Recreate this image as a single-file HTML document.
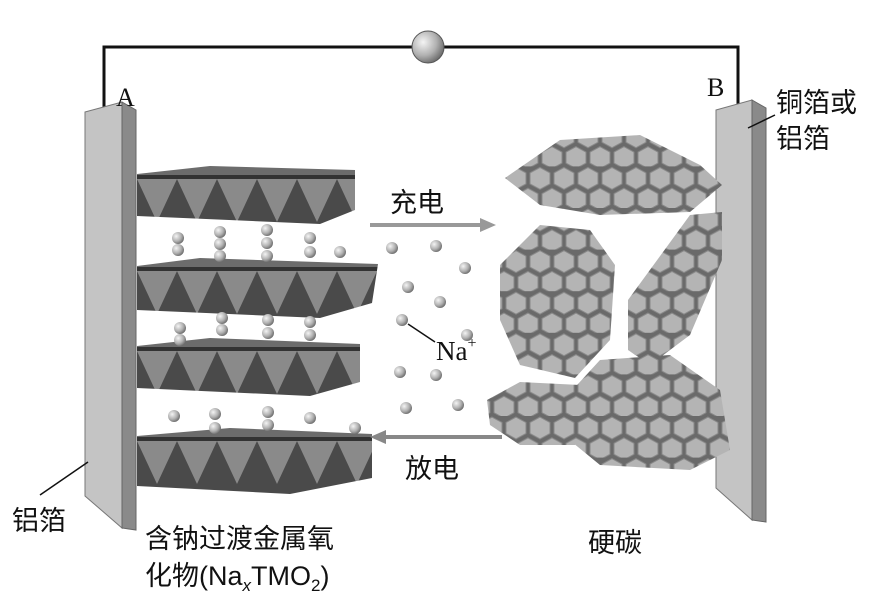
<!DOCTYPE html>
<html><head><meta charset="utf-8"><style>
body{margin:0;background:#fff}
svg{display:block}
text{font-family:"Liberation Serif","Noto Serif CJK SC",serif;fill:#111}
.c{font-family:"Liberation Sans","Noto Sans CJK SC",sans-serif}
</style></head><body>
<svg width="894" height="602" viewBox="0 0 894 602" xmlns="http://www.w3.org/2000/svg">
<defs>
<radialGradient id="sp" cx="0.35" cy="0.35" r="0.7"><stop offset="0" stop-color="#f4f4f4"/><stop offset="0.6" stop-color="#b0b0b0"/><stop offset="1" stop-color="#6a6a6a"/></radialGradient>
<pattern id="oct" width="40" height="70" patternUnits="userSpaceOnUse">
<rect width="40" height="70" fill="#4a4a4a"/>
<rect width="40" height="9" fill="#6c6c6c"/>
<rect y="9" width="40" height="4" fill="#333"/>
<polygon points="0,13 40,13 20,56" fill="#8a8a8a"/>
</pattern>
<pattern id="hex" width="24" height="41.6" patternUnits="userSpaceOnUse">
<rect width="24" height="41.6" fill="#6a6a6a"/>
<polygon points="12,1 22,6.5 22,17.5 12,23 2,17.5 2,6.5" fill="#b4b4b4" stroke="#888" stroke-width="1"/>
<polygon points="0,21.8 10,27.3 10,38.3 0,43.8 -10,38.3 -10,27.3" fill="#b4b4b4" stroke="#888" stroke-width="1"/>
<polygon points="24,21.8 34,27.3 34,38.3 24,43.8 14,38.3 14,27.3" fill="#b4b4b4" stroke="#888" stroke-width="1"/>
</pattern>
</defs>
<!-- wire -->
<path d="M104,108 V47 H738 V108" fill="none" stroke="#111" stroke-width="3"/>
<circle cx="428" cy="47" r="16" fill="url(#sp)" stroke="#555"/>
<!-- left plate -->
<polygon points="85,112 122,102 122,528 85,496" fill="#c4c4c4" stroke="#777"/>
<polygon points="122,102 136,110 136,530 122,528" fill="#8a8a8a" stroke="#666"/>
<!-- right plate -->
<polygon points="716,110 752,100 752,520 716,488" fill="#c4c4c4" stroke="#777"/>
<polygon points="752,100 766,108 766,522 752,520" fill="#8a8a8a" stroke="#666"/>
<!-- octahedra layers -->
<g transform="translate(137,166)"><polygon points="0,8 73,0 218,4 218,44 183,58 0,50" fill="url(#oct)"/></g>
<g transform="translate(137,258)"><polygon points="0,8 63,0 241,6 235,45 183,60 0,52" fill="url(#oct)"/></g>
<g transform="translate(137,338)"><polygon points="0,8 73,0 223,6 223,44 173,58 0,50" fill="url(#oct)"/></g>
<g transform="translate(137,428)"><polygon points="0,8 93,0 235,6 235,50 153,66 0,58" fill="url(#oct)"/></g>
<!-- spheres -->
<g fill="url(#sp)">
<circle cx="178" cy="238" r="6"/><circle cx="178" cy="250" r="6"/>
<circle cx="220" cy="232" r="6"/><circle cx="220" cy="244" r="6"/><circle cx="220" cy="256" r="6"/>
<circle cx="267" cy="230" r="6"/><circle cx="267" cy="243" r="6"/><circle cx="267" cy="256" r="6"/>
<circle cx="310" cy="238" r="6"/><circle cx="310" cy="252" r="6"/>
<circle cx="180" cy="328" r="6"/><circle cx="180" cy="340" r="6"/>
<circle cx="222" cy="318" r="6"/><circle cx="222" cy="330" r="6"/>
<circle cx="268" cy="320" r="6"/><circle cx="268" cy="333" r="6"/>
<circle cx="310" cy="322" r="6"/><circle cx="310" cy="335" r="6"/>
<circle cx="174" cy="416" r="6"/>
<circle cx="215" cy="414" r="6"/><circle cx="215" cy="428" r="6"/>
<circle cx="268" cy="412" r="6"/><circle cx="268" cy="425" r="6"/>
<circle cx="310" cy="418" r="6"/>
<circle cx="355" cy="428" r="6"/><circle cx="340" cy="252" r="6"/>
<circle cx="392" cy="248" r="6"/><circle cx="436" cy="246" r="6"/>
<circle cx="408" cy="287" r="6"/><circle cx="440" cy="302" r="6"/><circle cx="465" cy="268" r="6"/>
<circle cx="402" cy="320" r="6"/><circle cx="467" cy="335" r="6"/>
<circle cx="400" cy="372" r="6"/><circle cx="436" cy="375" r="6"/>
<circle cx="406" cy="408" r="6"/><circle cx="458" cy="405" r="6"/>
</g>
<!-- hex clusters -->
<polygon points="505,178 560,140 640,135 700,165 722,185 690,212 600,215 540,205" fill="url(#hex)"/>
<polygon points="500,265 540,225 590,230 615,265 610,340 575,378 520,365 500,320" fill="url(#hex)"/>
<polygon points="628,300 690,215 722,212 722,260 690,335 650,365 628,350" fill="url(#hex)"/>
<polygon points="487,400 520,382 580,385 600,410 575,445 520,445 490,425" fill="url(#hex)"/>
<polygon points="545,420 600,360 670,355 720,390 730,450 690,470 600,465" fill="url(#hex)"/>
<!-- arrows -->
<line x1="370" y1="225" x2="482" y2="225" stroke="#999" stroke-width="4"/>
<polygon points="480,218 496,225 480,232" fill="#999"/>
<line x1="384" y1="437" x2="502" y2="437" stroke="#888" stroke-width="4"/>
<polygon points="386,430 370,437 386,444" fill="#888"/>
<line x1="408" y1="324" x2="435" y2="342" stroke="#111" stroke-width="1.5"/>
<line x1="40" y1="495" x2="88" y2="462" stroke="#111" stroke-width="1.5"/>
<line x1="748" y1="128" x2="775" y2="115" stroke="#111" stroke-width="1.5"/>
<!-- labels -->
<text x="116" y="106" font-size="26">A</text>
<text x="707" y="96" font-size="26">B</text>
<text class="c" x="776" y="112" font-size="27">铜箔或</text>
<text class="c" x="776" y="148" font-size="27">铝箔</text>
<text class="c" x="390" y="212" font-size="27">充电</text>
<text class="c" x="405" y="478" font-size="27">放电</text>
<text x="436" y="360" font-size="27">Na<tspan font-size="16" dy="-12">+</tspan></text>
<text class="c" x="12" y="530" font-size="27">铝箔</text>
<text class="c" x="145" y="548" font-size="27">含钠过渡金属氧</text>
<text class="c" x="145" y="585" font-size="27">化物(Na<tspan font-style="italic" font-size="17" dy="6">x</tspan><tspan dy="-6">TMO</tspan><tspan font-size="17" dy="6">2</tspan><tspan dy="-6">)</tspan></text>
<text class="c" x="588" y="552" font-size="27">硬碳</text>
</svg>
</body></html>
